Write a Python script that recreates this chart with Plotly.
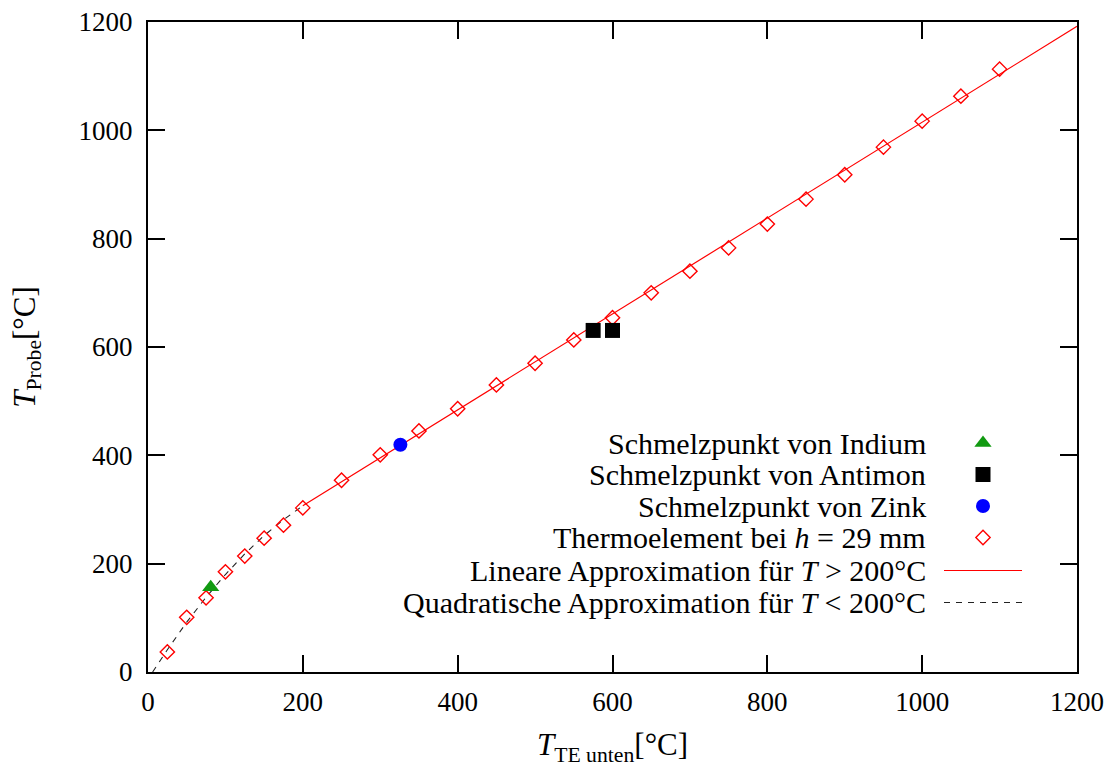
import plotly.graph_objects as go

# ---------------- data ----------------
te_x = [25, 50, 75, 100, 125, 150, 175, 200, 250, 300, 350, 400, 450, 500, 550,
        600, 650, 700, 750, 800, 850, 900, 950, 1000, 1050, 1100]
te_y = [37, 101, 137, 185, 214, 247, 271, 303, 354, 401, 445, 486, 530, 570, 613,
        654, 700, 740, 783, 827, 873, 918, 969, 1017, 1063, 1113]

indium_x = [81]
indium_y = [156.6]
antimon_x = [575, 600]
antimon_y = [630.6, 630.6]
zink_x = [326]
zink_y = [419.5]

lin_x = [200, 1200]
lin_y = [307, 1192]

quad_x = [6, 25, 50, 75, 100, 125, 150, 175, 200]
quad_y = [0, 41, 92, 138, 180, 218, 252, 281, 307]

x_ticks = [0, 200, 400, 600, 800, 1000, 1200]
y_ticks = [0, 200, 400, 600, 800, 1000, 1200]

legend_labels = [
    "Schmelzpunkt von Indium",
    "Schmelzpunkt von Antimon",
    "Schmelzpunkt von Zink",
    "Thermoelement bei <i>h</i> = 29 mm",
    "Lineare Approximation für <i>T</i> &gt; 200°C",
    "Quadratische Approximation für <i>T</i> &lt; 200°C",
]

FONT = "Liberation Serif"
W, H = 1113, 767
L, R, T, B = 148, 36, 22, 95
PW, PH = W - L - R, H - T - B

RED = "#ff0000"
GREEN = "#119a11"
BLUE = "#0000ff"

fig = go.Figure()

fig.add_trace(go.Scatter(x=quad_x, y=quad_y, mode="lines",
                         line=dict(color="#222222", width=1.1, dash="6px,6px"),
                         showlegend=False, hoverinfo="skip"))
fig.add_trace(go.Scatter(x=lin_x, y=lin_y, mode="lines",
                         line=dict(color=RED, width=1.2),
                         showlegend=False, hoverinfo="skip"))
fig.add_trace(go.Scatter(x=te_x, y=te_y, mode="markers",
                         marker=dict(symbol="diamond-open", size=11, color=RED,
                                     line=dict(width=1.4, color=RED)),
                         showlegend=False))
fig.add_trace(go.Scatter(x=zink_x, y=zink_y, mode="markers",
                         marker=dict(symbol="circle", size=14, color=BLUE),
                         showlegend=False))
fig.add_trace(go.Scatter(x=antimon_x, y=antimon_y, mode="markers",
                         marker=dict(symbol="square", size=15, color="black"),
                         showlegend=False))
fig.add_trace(go.Scatter(x=indium_x, y=indium_y, mode="markers",
                         marker=dict(symbol="triangle-up", size=15, color=GREEN),
                         showlegend=False))

# ---------------- manual legend (gnuplot style) ----------------
def px_to_paper_x(px):
    return (px - L) / PW

def px_to_paper_y(py):
    return (H - B - py) / PH

leg_rows_y = [443, 474.5, 506, 537.5, 570.5, 602.5]
text_right_px = 928
sym_px = 983

for lab, ry in zip(legend_labels, leg_rows_y):
    fig.add_annotation(x=px_to_paper_x(text_right_px), y=px_to_paper_y(ry),
                       xref="paper", yref="paper", xanchor="right", yanchor="middle",
                       text=lab, showarrow=False,
                       font=dict(family=FONT, size=30, color="black"))

# legend sample markers on an overlay axis in paper-like units
sx = px_to_paper_x(sym_px)
leg_syms = [("triangle-up", 15, GREEN, None), ("square", 15, "black", None),
            ("circle", 14, BLUE, None), ("diamond-open", 11, RED, RED)]
for (sym, sz, col, lc), ry in zip(leg_syms, leg_rows_y[:4]):
    mk = dict(symbol=sym, size=sz, color=col)
    if lc:
        mk["line"] = dict(width=1.4, color=lc)
    fig.add_trace(go.Scatter(x=[sx], y=[px_to_paper_y(ry)], mode="markers",
                             marker=mk, xaxis="x2", yaxis="y2",
                             showlegend=False, hoverinfo="skip"))
for ry, col, dash, wd in [(leg_rows_y[4], RED, "solid", 1.2),
                          (leg_rows_y[5], "#222222", "6px,6px", 1.1)]:
    fig.add_trace(go.Scatter(x=[px_to_paper_x(944), px_to_paper_x(1022)],
                             y=[px_to_paper_y(ry)] * 2, mode="lines",
                             line=dict(color=col, width=wd, dash=dash),
                             xaxis="x2", yaxis="y2",
                             showlegend=False, hoverinfo="skip"))

axis_common = dict(showgrid=False, zeroline=False, showline=True, linecolor="black",
                   linewidth=2, mirror="ticks", ticks="inside", ticklen=17,
                   tickwidth=2, tickcolor="black", automargin=False,
                   tickfont=dict(family=FONT, size=27, color="black"))

fig.update_layout(
    width=W, height=H,
    margin=dict(l=L, r=R, t=T, b=B),
    paper_bgcolor="white", plot_bgcolor="white",
    showlegend=False,
    xaxis=dict(range=[0, 1200], tickvals=x_ticks, ticktext=[str(v) for v in x_ticks],
               ticklabelstandoff=5,
               title=dict(text="<i>T</i><sub>TE unten</sub>[°C]", standoff=20,
                          font=dict(family=FONT, size=31, color="black")),
               **axis_common),
    yaxis=dict(range=[0, 1200], tickvals=y_ticks, ticktext=[str(v) for v in y_ticks],
               ticklabelstandoff=8,
               title=dict(text="<i>T</i><sub>Probe</sub>[°C]", standoff=34,
                          font=dict(family=FONT, size=31, color="black")),
               **axis_common),
    xaxis2=dict(overlaying="x", range=[0, 1], visible=False),
    yaxis2=dict(overlaying="y", range=[0, 1], visible=False),
)

fig.write_html("out.html")
